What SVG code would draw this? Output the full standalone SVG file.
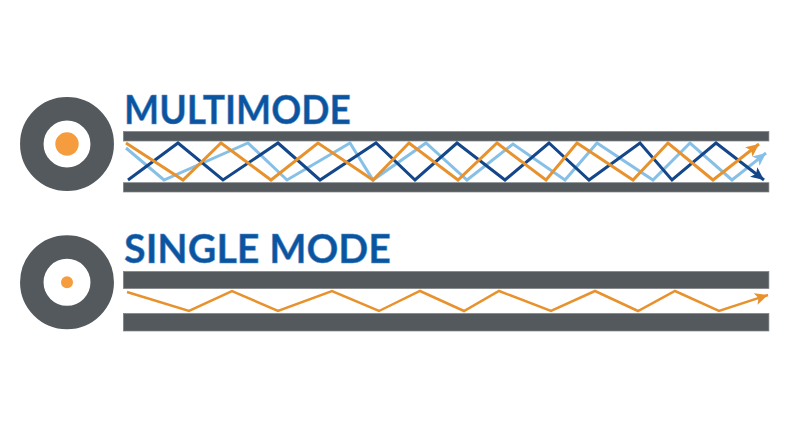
<svg xmlns="http://www.w3.org/2000/svg" width="800" height="430" viewBox="0 0 800 430">
<style>
.bar{fill:#54595d;stroke:#7d8184;stroke-width:.7}
.ring{fill:#fff;stroke:#54595d;stroke-width:23.5}
.core{fill:#f59c3f}
.title{font-family:"Lato","Liberation Sans",Arial,sans-serif;font-weight:700;font-size:40.500px;fill:#0b55a0;stroke:#5f93c6;stroke-width:.5}
.ray{fill:none;stroke-width:3;stroke-linejoin:miter}
.thin{stroke-width:2.500}
.o{stroke:#e8922e}.n{stroke:#14478a}.l{stroke:#87c0e6}
</style>
<defs>
<marker id="ao" markerUnits="userSpaceOnUse" markerWidth="14" markerHeight="12" refX="13" refY="6" orient="auto"><path d="M0 0L13 6L0 12L3 6Z" fill="#e8922e"/></marker>
<marker id="an" markerUnits="userSpaceOnUse" markerWidth="14" markerHeight="12" refX="13" refY="6" orient="auto"><path d="M0 0L13 6L0 12L3 6Z" fill="#14478a"/></marker>
<marker id="al" markerUnits="userSpaceOnUse" markerWidth="14" markerHeight="12" refX="13" refY="6" orient="auto"><path d="M0 0L13 6L0 12L3 6Z" fill="#87c0e6"/></marker>
</defs>
<rect width="800" height="430" fill="#fff"/>
<g id="multimode-icon">
<circle class="ring" cx="67" cy="144" r="35.2"/>
<circle class="core" cx="67" cy="144" r="11.7"/>
</g>
<g id="multimode-title"><text class="title" x="124" y="124" textLength="227" lengthAdjust="spacingAndGlyphs">MULTIMODE</text></g>
<g id="multimode-cable">
<rect class="bar" x="123.400" y="131.500" width="645.500" height="9.500"/>
<rect class="bar" x="123.400" y="182.700" width="645.500" height="9.300"/>
</g>
<g id="singlemode-icon">
<circle class="ring" cx="67" cy="282.300" r="35.2"/>
<circle class="core" cx="67" cy="282.300" r="6"/>
</g>
<g id="singlemode-title"><text class="title" x="124" y="263" textLength="267" lengthAdjust="spacingAndGlyphs">SINGLE MODE</text></g>
<g id="singlemode-cable">
<rect class="bar" x="123.400" y="271.500" width="645.500" height="17"/>
<rect class="bar" x="123.400" y="313.500" width="645.500" height="17.500"/>
</g>
<g id="connectors">
<polyline class="ray l" marker-end="url(#al)" points="126,148 164,180 248,143 287,180 350,143 373,180 426,143 467,180 513,144 565,180 597,143 653,180 690,143 732,180 766,153"/>
<polyline class="ray n" marker-end="url(#an)" points="128,180 178,143 223,180 278,143 320,180 376,143 415,180 457,143 505,180 549,143 589,180 640,143 672,180 716,143 764,180"/>
<polyline class="ray o" marker-end="url(#ao)" points="126,143 183,180 221,143 271,180 318,143 373,180 409,143 458,180 497,143 546,180 577,143 633,180 668,143 713,180 759,144"/>
<polyline class="ray o thin" marker-end="url(#ao)" points="127,292 189,311 232,291 278,311 332,291 379,311 420,291 464,311 499,291 551,311 595,291 638,311 675,291 719,311 768,295"/>
</g>
</svg>
